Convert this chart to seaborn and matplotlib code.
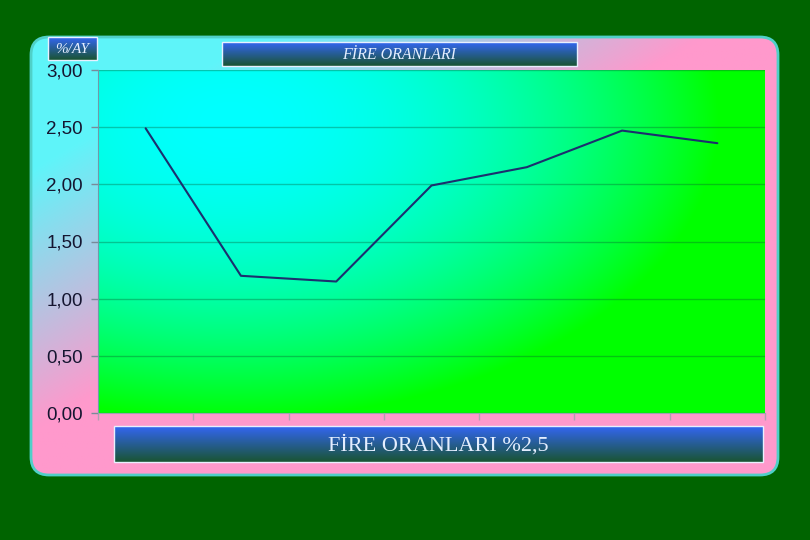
import numpy as np
import matplotlib
matplotlib.use("Agg")
import matplotlib.pyplot as plt
from matplotlib.patches import FancyBboxPatch, Rectangle
import seaborn as sns

# data
months = ["1", "2", "3", "4", "5", "6", "7"]
fire_rates = [2.49, 1.20, 1.15, 1.99, 2.15, 2.47, 2.36]
y_ticks = [0.0, 0.5, 1.0, 1.5, 2.0, 2.5, 3.0]
y_labels = ["0,00", "0,50", "1,00", "1,50", "2,00", "2,50", "3,00"]
title_text = "FİRE ORANLARI"
unit_text = "%/AY"
footer_text = "FİRE ORANLARI %2,5"

sns.set_style("ticks")
plt.rcParams['font.family'] = ['Liberation Sans', 'DejaVu Sans']

fig = plt.figure(figsize=(8.1, 5.4), dpi=100)
fig.patch.set_facecolor('#006400')

# background layer in pixel coordinates
bg = fig.add_axes([0, 0, 1, 1])
bg.set_axis_off()

# outer rounded panel with diagonal gradient cyan -> pink
H, W = 200, 300
fx = np.linspace(0, 1, W)[None, :]
fy = np.linspace(0, 1, H)[:, None]
t = np.clip((fx + fy - 0.3) / 0.6, 0, 1)[..., None]
cyan = np.array([0.37, 0.96, 0.98])
pink = np.array([1.0, 0.6, 0.8])
grad = cyan * (1 - t) + pink * t
im = bg.imshow(grad, extent=[31, 778, 475, 37], origin='upper', aspect='auto', zorder=1)
panel = FancyBboxPatch((31, 37), 747, 438, boxstyle="round,pad=0,rounding_size=18",
                       facecolor='none', edgecolor='#4fd0c8', lw=2, zorder=2)
bg.add_patch(panel)
im.set_clip_path(panel)


def grad_box(x0, y0, x1, y1, text, size, style):
    col = np.linspace(0, 1, 50)[:, None, None]
    top = np.array([0.2, 0.4, 0.95])
    bot = np.array([0.1, 0.33, 0.2])
    g = top * (1 - col) + bot * col
    g = np.repeat(g, 2, axis=1)
    bg.imshow(g, extent=[x0, x1, y1, y0], origin='upper', aspect='auto', zorder=3)
    bg.add_patch(Rectangle((x0, y0), x1 - x0, y1 - y0, facecolor='none',
                           edgecolor='#e8f0ff', lw=1, zorder=4))
    bg.text((x0 + x1) / 2, (y0 + y1) / 2 + 1, text, ha='center', va='center',
            fontsize=size, fontstyle=style, color='#e4eeff', zorder=5,
            family=['Liberation Serif', 'DejaVu Serif'])


grad_box(222, 42, 577, 66, title_text, 11.5, 'italic')
grad_box(48, 37, 97, 60, unit_text, 11, 'italic')
grad_box(114, 426, 763, 462, footer_text, 16, 'normal')

bg.set_xlim(0, 810)
bg.set_ylim(540, 0)

# plot area, elliptical cyan glow near the top-left fading to green
ax = fig.add_axes([98 / 810, (540 - 413) / 540, (765 - 98) / 810, (413 - 70) / 540])
ph, pw = 200, 300
xs = np.linspace(98, 765, pw)[None, :]
ys = np.linspace(70, 413, ph)[:, None]
r = np.sqrt(((xs - 230) / 490) ** 2 + ((ys - 120) / 300) ** 2)
tp = np.clip(r, 0, 1) ** 2
area = np.zeros((ph, pw, 3))
area[..., 1] = 1.0
area[..., 2] = 1 - tp
ax.imshow(area, extent=[0, 7, 0, 3], origin='upper', aspect='auto', zorder=-1)

x_pos = np.arange(len(months)) + 0.5
sns.lineplot(x=x_pos, y=fire_rates, ax=ax, color='#1c2f6e', linewidth=1.5)

ax.set_xlim(0, 7)
ax.set_ylim(0, 3)
ax.set_yticks(y_ticks)
ax.set_yticklabels(y_labels, fontsize=13.5, color='#151530')
ax.set_xticks(np.arange(len(months) + 1))
ax.set_xticklabels([])
ax.yaxis.grid(True, color='#0a5a30', alpha=0.35, lw=1)
ax.tick_params(axis='y', length=5, width=1, color='#7a8a99', pad=6)
ax.tick_params(axis='x', length=5, width=1, color='#b0a0b0')
for s in ['top', 'right']:
    ax.spines[s].set_visible(False)
ax.spines['left'].set_color('#6f9aaa')
ax.spines['bottom'].set_color('#a0a0b0')

fig.savefig('out.png', dpi=100, facecolor=fig.get_facecolor())
